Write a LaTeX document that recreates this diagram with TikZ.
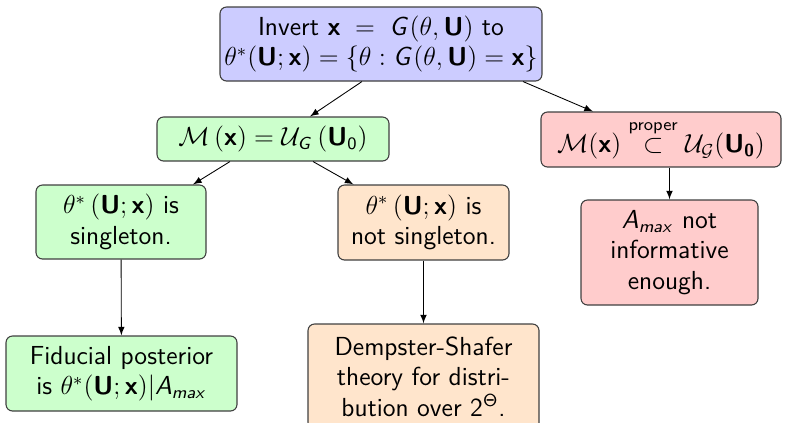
\documentclass[tikz,border=0pt]{standalone}
\usepackage{amsmath}
\usepackage{xcolor}
\usetikzlibrary{arrows}
\DeclareMathAlphabet{\mathsfsl}{OT1}{cmss}{m}{sl}
\DeclareMathAlphabet{\mathsfb}{OT1}{cmss}{bx}{n}
\newcommand{\vecU}{\mathsfb{U}}
\newcommand{\vecx}{\mathsfb{x}}
\newcommand{\sG}{\mathsfsl{G}}
\newcommand{\Amax}{\mathsfsl{A}_{\mathsfsl{max}}}

\begin{document}
\begin{tikzpicture}[x=0.46pt,y=-0.46pt,
  box/.style={draw=black!75,line width=0.5pt,rounded corners=3pt,align=center,font=\sffamily\large,inner sep=2pt},
  conn/.style={-latex,black}]
\def\pu{0.46pt}
%frame
\path[use as bounding box,clip] (0,0) rectangle (796,422);

%top
\node[box,fill=blue!20,minimum width=304*\pu,minimum height=74*\pu] (invert) at (381,44)
  {Invert $\vecx \;=\; \sG(\theta,\vecU)$ to\\ $\theta^*(\vecU;\vecx)=\{\theta : \sG(\theta,\vecU)=\vecx\}$};

%second level
\node[box,fill=green!20,minimum width=232*\pu,minimum height=44*\pu] (meq) at (273,139)
  {$\mathcal{M}\left(\vecx\right) = \mathcal{U}_{\sG}\left(\vecU_{\mathsf{0}}\right)$};
\node[box,fill=red!20,minimum width=240*\pu,minimum height=55*\pu] (proper) at (661,139.5)
  {$\mathcal{M}(\vecx) \stackrel{\text{\raisebox{1.5pt}{proper}}}{\subset} \mathcal{U}_{\mathcal{G}}(\vecU_{\mathsfb{0}})$};

%third level
\node[box,fill=green!20,minimum width=170*\pu,minimum height=74*\pu] (single) at (121,222)
  {$\theta^*\left(\vecU;\vecx\right)$ is\\ singleton.};
\node[box,fill=orange!20,minimum width=171*\pu,minimum height=75*\pu] (notsingle) at (423.5,222.5)
  {$\theta^*\left(\vecU;\vecx\right)$ is\\ not singleton.};
\node[box,fill=red!20,minimum width=177*\pu,minimum height=105*\pu] (amax) at (669.5,252.5)
  {$\Amax$ not\\ informative\\ enough.};

%bottom
\node[box,fill=green!20,minimum width=231*\pu,minimum height=75*\pu] (fiducial) at (121.5,373.5)
  {Fiducial posterior\\ is $\theta^*(\vecU;\vecx)|\Amax$};
\node[box,fill=orange!20,minimum width=231*\pu,minimum height=105*\pu] (dempster) at (423.5,376.5)
  {Dempster-Shafer\\ theory for distri-\\ bution over 2$^{\mathsf{\Theta}}$.};

%arrows
\draw[conn] ([xshift=-19*\pu]invert.south) -- ([xshift=37*\pu]meq.north);
\draw[conn] ([xshift=142*\pu]invert.south) -- ([xshift=-68*\pu]proper.north);
\draw[conn] ([xshift=-43*\pu]meq.south) -- ([xshift=72*\pu]single.north);
\draw[conn] ([xshift=40*\pu]meq.south) -- ([xshift=-70*\pu]notsingle.north);
\draw[conn] (single) -- (fiducial);
\draw[conn] (notsingle) -- (dempster);
\draw[conn] ([xshift=8.5*\pu]proper.south) -- (amax);
\end{tikzpicture}
\end{document}
